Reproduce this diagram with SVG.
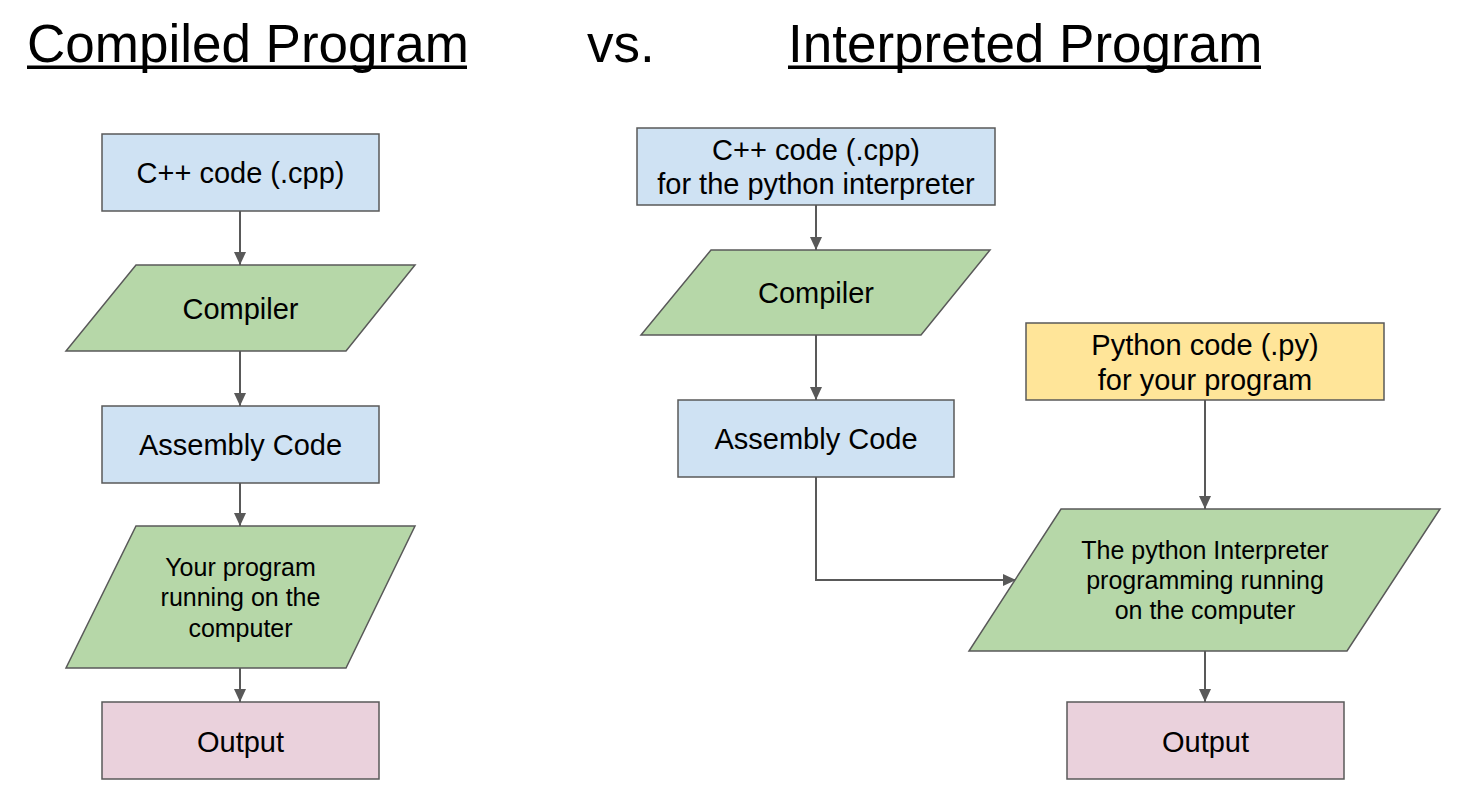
<svg xmlns="http://www.w3.org/2000/svg" width="1463" height="808" viewBox="0 0 1463 808">
<style>
  .title { font-family: "Liberation Sans", Arial, sans-serif; font-size: 53px; fill: #000; }
  .lbl { font-family: "Liberation Sans", Arial, sans-serif; font-size: 29px; fill: #000; text-anchor: middle; }
  .sml { font-family: "Liberation Sans", Arial, sans-serif; font-size: 25px; fill: #000; text-anchor: middle; }
  .shape { stroke: #595959; stroke-width: 1.5; }
  .blue { fill: #cfe2f3; }
  .green { fill: #b6d7a8; }
  .pink { fill: #ead1dc; }
  .yellow { fill: #ffe599; }
  .conn { fill: none; stroke: #595959; stroke-width: 2; marker-end: url(#arrow); }
</style>
<defs>
  <marker id="arrow" viewBox="0 0 13 12" refX="13" refY="6" markerWidth="13" markerHeight="12" markerUnits="userSpaceOnUse" orient="auto">
    <path d="M0,0 L13,6 L0,12 z" fill="#595959"/>
  </marker>
</defs>
<rect width="1463" height="808" fill="#ffffff"/>

<g id="titles">
  <text class="title" x="27" y="62">Compiled Program</text>
  <rect x="27" y="65.5" width="440" height="3.5" fill="#000"/>
  <text class="title" x="587" y="62">vs.</text>
  <text class="title" x="788" y="62">Interpreted Program</text>
  <rect x="788" y="65.5" width="473" height="3.5" fill="#000"/>
</g>

<g id="connectors">
  <path class="conn" d="M240,211 L240,265"/>
  <path class="conn" d="M240,351 L240,406"/>
  <path class="conn" d="M240,483 L240,526"/>
  <path class="conn" d="M240,668 L240,702"/>
  <path class="conn" d="M816,205 L816,250"/>
  <path class="conn" d="M816,335 L816,400"/>
  <path class="conn" d="M816,477 L816,580 L1016,580"/>
  <path class="conn" d="M1205,400 L1205,509"/>
  <path class="conn" d="M1205,651 L1205,702"/>
</g>

<g id="l-cpp">
  <rect class="shape blue" x="102" y="134" width="277" height="77"/>
  <text class="lbl" x="240.5" y="183">C++ code (.cpp)</text>
</g>
<g id="l-compiler">
  <polygon class="shape green" points="136,265 415,265 346,351 66,351"/>
  <text class="lbl" x="240.5" y="319">Compiler</text>
</g>
<g id="l-assembly">
  <rect class="shape blue" x="102" y="406" width="277" height="77"/>
  <text class="lbl" x="240.5" y="455">Assembly Code</text>
</g>
<g id="l-running">
  <polygon class="shape green" points="136,526 415,526 346,668 66,668"/>
  <text class="sml" x="240.5" y="576">Your program</text>
  <text class="sml" x="240.5" y="606">running on the</text>
  <text class="sml" x="240.5" y="637">computer</text>
</g>
<g id="l-output">
  <rect class="shape pink" x="102" y="702" width="277" height="77"/>
  <text class="lbl" x="240.5" y="752">Output</text>
</g>

<g id="r-cpp">
  <rect class="shape blue" x="637" y="128" width="358" height="77"/>
  <text class="lbl" x="816" y="160">C++ code (.cpp)</text>
  <text class="lbl" x="816" y="194">for the python interpreter</text>
</g>
<g id="r-compiler">
  <polygon class="shape green" points="711,250 990,250 921,335 641,335"/>
  <text class="lbl" x="816" y="303">Compiler</text>
</g>
<g id="r-assembly">
  <rect class="shape blue" x="678" y="400" width="276" height="77"/>
  <text class="lbl" x="816" y="449">Assembly Code</text>
</g>
<g id="r-python">
  <rect class="shape yellow" x="1026" y="323" width="358" height="77"/>
  <text class="lbl" x="1205" y="355">Python code (.py)</text>
  <text class="lbl" x="1205" y="390">for your program</text>
</g>
<g id="r-interpreter">
  <polygon class="shape green" points="1061,509 1440,509 1347,651 969,651"/>
  <text class="sml" x="1205" y="559">The python Interpreter</text>
  <text class="sml" x="1205" y="589">programming running</text>
  <text class="sml" x="1205" y="619">on the computer</text>
</g>
<g id="r-output">
  <rect class="shape pink" x="1067" y="702" width="277" height="77"/>
  <text class="lbl" x="1205.5" y="752">Output</text>
</g>
</svg>
